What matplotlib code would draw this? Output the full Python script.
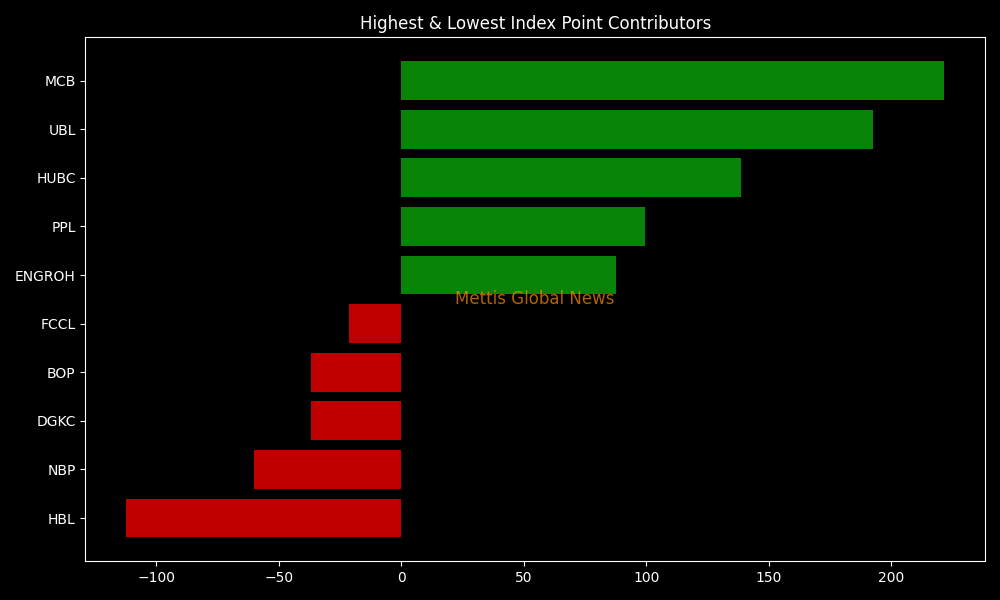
import matplotlib
matplotlib.use('Agg')
import matplotlib.pyplot as plt

symbols = ['MCB', 'UBL', 'HUBC', 'PPL', 'ENGROH', 'FCCL', 'BOP', 'DGKC', 'NBP', 'HBL']
points = [221.6, 192.6, 138.8, 99.6, 87.8, -21.2, -36.7, -36.7, -60.0, -112.2]

GREEN = '#078407'
RED = '#c00000'

plt.style.use('dark_background')
fig, ax = plt.subplots(figsize=(10, 6), dpi=100)

colors = [GREEN if p > 0 else RED for p in points]
ax.barh(symbols, points, color=colors)
ax.invert_yaxis()
ax.set_title('Highest & Lowest Index Point Contributors')

ax.text(0.5, 0.5, 'Mettis Global News', transform=ax.transAxes,
        ha='center', va='center', fontsize=12, color='darkorange', alpha=0.7)

plt.tight_layout()
plt.savefig('out.png')
